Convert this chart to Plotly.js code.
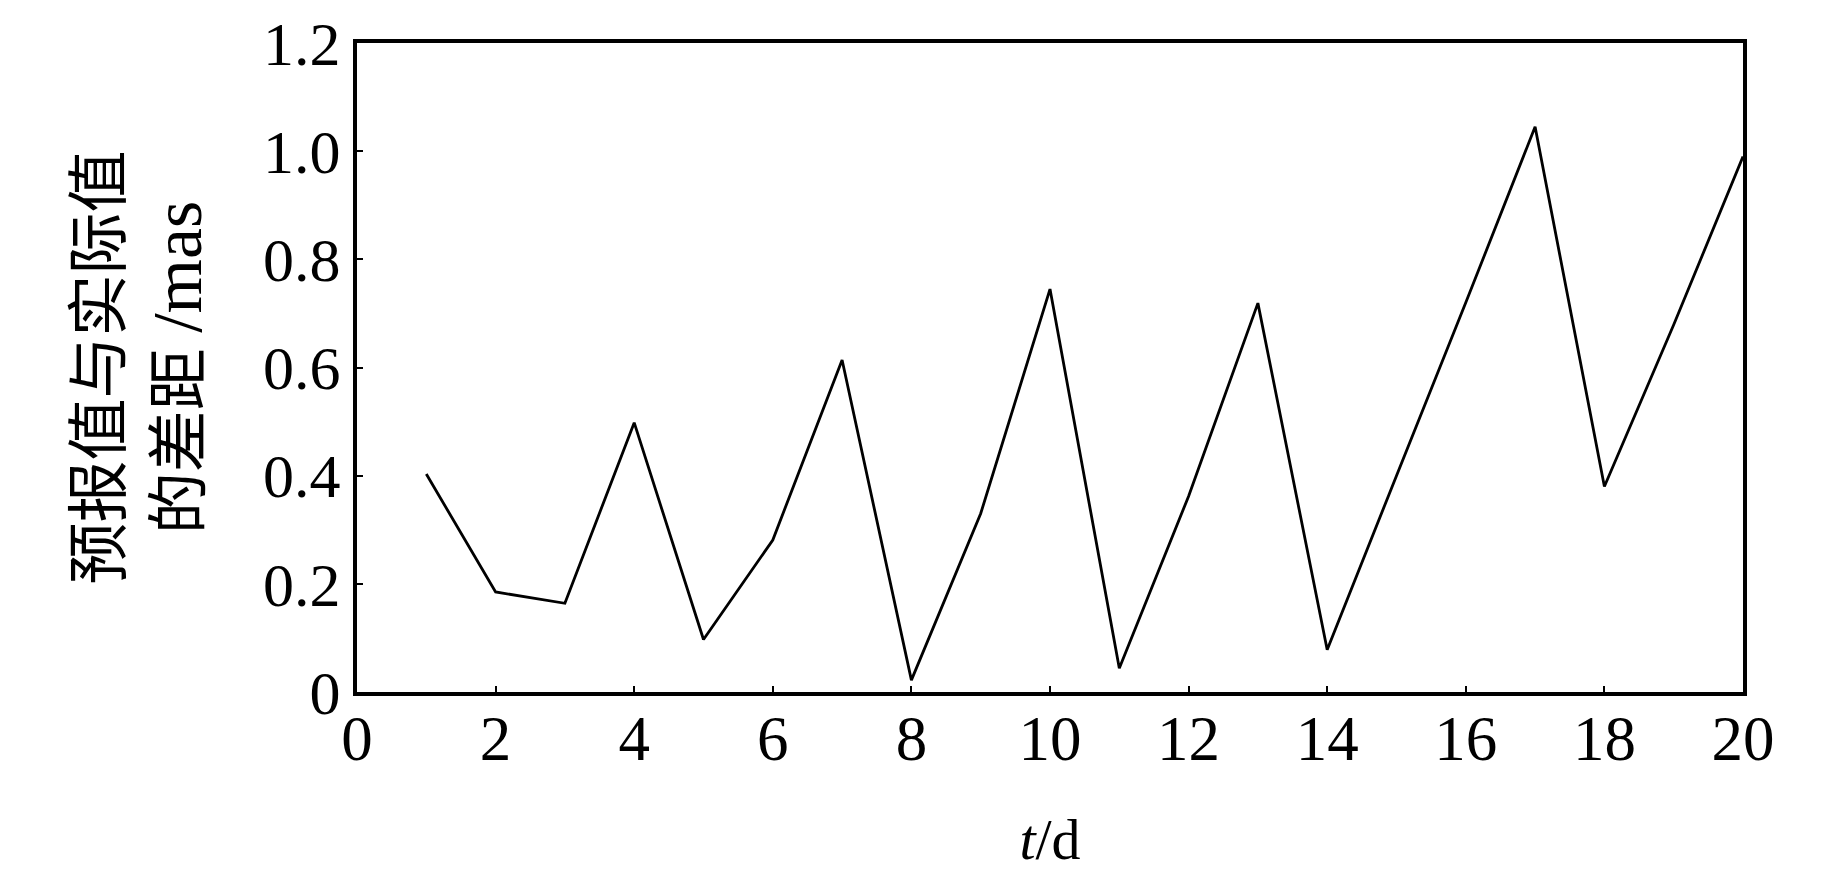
<!DOCTYPE html>
<html>
<head>
<meta charset="utf-8">
<script src="https://cdn.plot.ly/plotly-3.0.1.min.js"></script>
<style>html,body{margin:0;padding:0;background:#fff;}#chart{width:1843px;height:874px;}</style>
</head>
<body>
<div id="chart"></div>
<script>
// Data
const days = [1, 2, 3, 4, 5, 6, 7, 8, 9, 10, 11, 12, 13, 14, 15, 16, 17, 18, 19, 20];
const diffs = [0.403, 0.185, 0.164, 0.498, 0.097, 0.281, 0.614, 0.022, 0.330, 0.745,
               0.044, 0.362, 0.719, 0.078, 0.400, 0.720, 1.045, 0.380, 0.679, 0.990];
const xTickVals = [0, 2, 4, 6, 8, 10, 12, 14, 16, 18, 20];
const xTickText = ["0", "2", "4", "6", "8", "10", "12", "14", "16", "18", "20"];
const yTickVals = [0, 0.2, 0.4, 0.6, 0.8, 1.0, 1.2];
const yTickText = ["0", "0.2", "0.4", "0.6", "0.8", "1.0", "1.2"];
const xTitle = "<i>t</i>/d";
const yTitle = "预报值与实际值<br>的差距 <span style='font-size:70px'>/mas</span>";

const fontFam = "'Liberation Serif', 'DejaVu Serif', 'Noto Sans CJK SC', serif";

const trace = {
  x: days,
  y: diffs,
  type: "scatter",
  mode: "lines",
  line: {color: "#000", width: 2.8},
  hoverinfo: "x+y"
};

const layout = {
  width: 1843,
  height: 874,
  paper_bgcolor: "#fff",
  plot_bgcolor: "#fff",
  margin: {l: 357, r: 100, t: 43, b: 182},
  showlegend: false,
  font: {family: fontFam, color: "#000", size: 60},
  xaxis: {
    range: [0, 20],
    tickvals: xTickVals,
    ticktext: xTickText,
    ticks: "inside",
    ticklen: 6,
    tickwidth: 2,
    tickcolor: "#000",
    ticklabelstandoff: -12,
    showline: true,
    linecolor: "#000",
    linewidth: 4,
    mirror: true,
    showgrid: false,
    zeroline: false,
    tickfont: {family: fontFam, size: 63, color: "#000"},
    title: {text: xTitle, font: {family: fontFam, size: 58, color: "#000"}, standoff: 47},
    automargin: false
  },
  yaxis: {
    range: [0, 1.2],
    tickvals: yTickVals,
    ticktext: yTickText,
    ticks: "inside",
    ticklen: 6,
    tickwidth: 2,
    tickcolor: "#000",
    showline: true,
    linecolor: "#000",
    linewidth: 4,
    mirror: true,
    showgrid: false,
    zeroline: false,
    tickfont: {family: fontFam, size: 62, color: "#000"},
    title: {text: yTitle, font: {family: fontFam, size: 62, color: "#000"}, standoff: 42},
    automargin: false
  }
};

Plotly.newPlot("chart", [trace], layout, {displayModeBar: false, staticPlot: true});
</script>
</body>
</html>
